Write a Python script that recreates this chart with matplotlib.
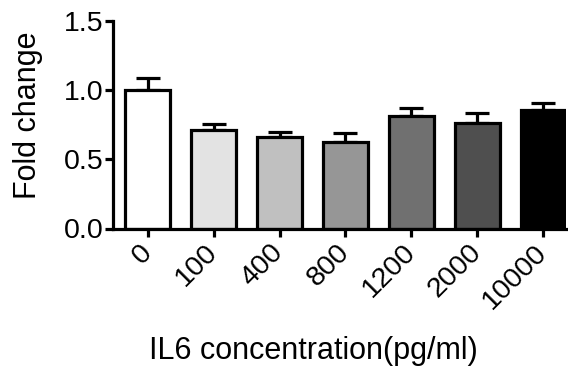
import matplotlib
matplotlib.use("Agg")
import matplotlib.pyplot as plt

plt.rcParams['font.family'] = ['Liberation Sans', 'DejaVu Sans']

concentrations = ["0", "100", "400", "800", "1200", "2000", "10000"]
fold_change = [1.00, 0.71, 0.66, 0.625, 0.815, 0.765, 0.855]
sem = [0.087, 0.046, 0.04, 0.064, 0.057, 0.067, 0.05]
bar_colors = ["#ffffff", "#e3e3e3", "#c0c0c0", "#969696", "#707070", "#4f4f4f", "#000000"]

W, H = 568, 371
fig = plt.figure(figsize=(W / 100, H / 100), dpi=100)
ax = fig.add_axes([113 / W, 1 - 228.5 / H, (566 - 113) / W, (228.5 - 20.7) / H])

x = list(range(len(concentrations)))
lw = 2.3
ax.bar(x, fold_change, width=0.68, color=bar_colors, edgecolor="black",
       linewidth=lw, zorder=2)
ax.errorbar(x, fold_change, yerr=[[0] * len(sem), sem], fmt="none",
            ecolor="black", elinewidth=lw, capsize=8.5, capthick=lw, zorder=1)

ax.set_xlim(-0.527, 6.345)
ax.set_ylim(0, 1.5)
ax.set_yticks([0.0, 0.5, 1.0, 1.5])
ax.set_yticklabels(["0.0", "0.5", "1.0", "1.5"])
ax.set_xticks(x)
ax.set_xticklabels(concentrations, rotation=45, ha="right", va="center",
                   rotation_mode="anchor")

for side in ("top", "right"):
    ax.spines[side].set_visible(False)
for side in ("left", "bottom"):
    ax.spines[side].set_linewidth(lw)
ax.tick_params(axis="both", width=lw, length=5.5, labelsize=20.5, color="black")
ax.tick_params(axis="x", pad=9)
ax.tick_params(axis="y", pad=1)

# Axis titles placed in figure coordinates
fig.text(28.5 / W, 1 - 115 / H, "Fold change", rotation=90,
         ha="center", va="center", fontsize=22)
fig.text(313 / W, 1 - 351.5 / H, "IL6 concentration(pg/ml)",
         ha="center", va="center", fontsize=22)

fig.savefig("out.png", dpi=100)
